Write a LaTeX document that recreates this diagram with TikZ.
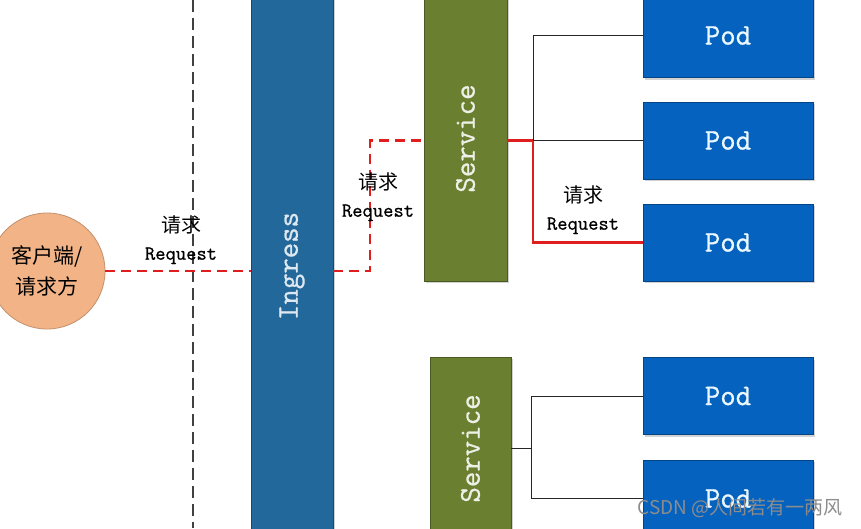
\documentclass[tikz,border=0pt]{standalone}
\usepackage{fontspec}
\newfontfamily\cjk{Noto Sans CJK SC}
\newfontfamily\mono{Latin Modern Mono}[FakeBold=0.8]
\usetikzlibrary{shadows}
\definecolor{ingblue}{HTML}{22689A}
\definecolor{svcgreen}{HTML}{6B7F30}
\definecolor{podblue}{HTML}{0563BF}
\definecolor{peach}{HTML}{F2B487}
\definecolor{reqred}{HTML}{E01E1E}
\tikzset{
  boxshadow/.style={drop shadow={opacity=0.35,shadow xshift=2pt,shadow yshift=-2pt}},
  ingbox/.style={draw=ingblue!70!black,fill=ingblue,line width=0.8pt,boxshadow,
    minimum width=82pt,minimum height=540pt,inner sep=0pt,
    text=white!85!ingblue,font=\fontsize{30}{30}\mono},
  svcbox/.style={draw=svcgreen!70!black,fill=svcgreen,line width=0.8pt,boxshadow,
    inner sep=0pt,text=white!88!svcgreen,font=\fontsize{30}{30}\mono},
  podbox/.style={draw=podblue!70!black,fill=podblue,line width=0.8pt,boxshadow,
    minimum width=170pt,minimum height=77pt,inner sep=0pt,
    text=cyan!8!white,font=\fontsize{30}{30}\mono},
  reqdash/.style={draw=reqred,line width=2.8pt,dash pattern=on 10pt off 6pt},
  reqline/.style={draw=reqred,line width=2.2pt},
  plain/.style={draw=black!85,line width=1pt},
  reqlabel/.style={align=center,inner sep=0pt,font=\fontsize{20}{27}\selectfont},
}
\begin{document}
\begin{tikzpicture}[x=1pt,y=1pt]
\useasboundingbox (0,0) rectangle (861,-528);
\clip (0,0) rectangle (861,-528);
\fill[white] (0,0) rectangle (861,-528);

% vertical dashed divider
\coordinate (vt) at (193,0);
\coordinate (vb) at (193,-528);
\draw[black!75,line width=1.1pt,dash pattern=on 12pt off 6pt] (vt) -- (vb);

% client
\node[circle,draw=peach!80!black,fill=peach,line width=0.8pt,minimum size=116pt,
  inner sep=0pt,align=center,font=\cjk\fontsize{21}{31}\selectfont] (client)
  at (47,-271) {客户端/\\请求方};

% boxes
\node[ingbox] (ing) at (292,-266) {\rotatebox{90}{Ingress}};
\node[svcbox,minimum width=83pt,minimum height=285pt] (svc1) at (465.5,-138.5) {\rotatebox{90}{Service}};
\node[svcbox,minimum width=81pt,minimum height=183pt] (svc2) at (470.5,-448.5) {\rotatebox{90}{Service}};

\node[podbox,minimum height=84pt] (pod1) at (728,-35.5) {Pod};
\node[podbox] (pod2) at (728,-140.5) {Pod};
\node[podbox] (pod3) at (728,-242.5) {Pod};
\node[podbox] (pod4) at (728,-396) {Pod};
\node[podbox] (pod5) at (728,-498.5) {Pod};

% request path client -> ingress
\draw[reqdash] (client.east) -- (ing.west |- client.east);

% ingress -> service 1
\coordinate (j1) at (370,-271);
\coordinate (j2) at (370,-140.5);
\draw[reqdash] (ing.east |- j1) -- (j1) -- (j2) -- (svc1.west |- j2);

% service 1 -> pods
\coordinate (b1) at (533,-140.5);
\draw[plain] (b1) |- (pod1.west);
\draw[plain] (b1) -- (pod2.west);
\draw[reqline] (svc1.east |- b1) -- (b1);
\draw[reqline] (b1) |- (pod3.west);

% service 2 -> pods
\coordinate (b2) at (531,-448.5);
\draw[plain] (svc2.east) -- (b2);
\draw[plain] (b2) |- (pod4.west);
\draw[plain] (b2) |- (pod5.west);

% labels
\node[reqlabel] (lab1) at (181,-240) {{\cjk 请求}\\{\mono Request}};
\node[reqlabel] (lab2) at (378,-197) {{\cjk 请求}\\{\mono Request}};
\node[reqlabel] (lab3) at (583,-210) {{\cjk 请求}\\{\mono Request}};

% watermark
\node[text=black!45,font=\cjk\fontsize{19}{19}\selectfont,inner sep=0pt] (wm)
  at (740,-508) {CSDN @人间若有一两风};
\end{tikzpicture}
\end{document}
